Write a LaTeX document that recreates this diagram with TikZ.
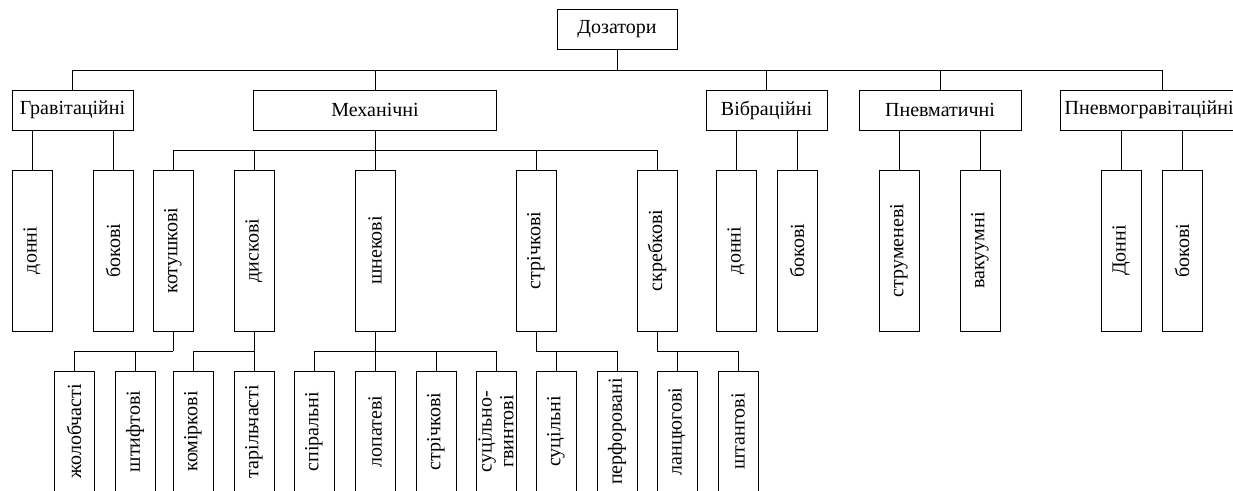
\documentclass[tikz,border=0pt]{standalone}
\usepackage{fontspec}
\setmainfont{Liberation Serif}
\usetikzlibrary{positioning}

\tikzset{
  hbox/.style={draw, rectangle, minimum height=30pt, inner sep=2pt},
  vbox/.style={draw, rectangle, minimum width=30pt, minimum height=120.75pt, inner sep=0pt},
  lbox/.style={vbox, minimum height=90.75pt},
}

\begin{document}
\begin{tikzpicture}[x=0.75pt, y=-0.75pt, font=\fontsize{15}{18}\selectfont, line width=0.7pt]
\useasboundingbox (0,0) rectangle (1233,490);
\clip (0,0) rectangle (1233,490);

% Root
\node[hbox, minimum width=90pt] (doz) at (617,29) {Дозатори};

% Main groups
\foreach \x/\w/\n/\t in {72.5/90.75/grav/Гравітаційні, 375/182.25/mech/Механічні,
    766.5/90.75/vib/Вібраційні, 940/121.5/pnev/Пневматичні} {
   \node[hbox, minimum width=\w pt] (\n) at (\x,110) {\t};
}
\node[hbox, text width=146pt, inner xsep=3pt, align=left] (pgrav) at (1162,110) {Пневмогравітаційні};

% Second level
\foreach \x/\n/\t in {32/don1/донні, 113/bok1/бокові, 173/kot/котушкові, 254/dysk/дискові,
    375/shnek/шнекові, 536/strich/стрічкові, 657/skreb/скребкові, 736/don2/донні,
    797/bok2/бокові, 899/strum/струменеві, 980/vak/вакуумні, 1121/don3/Донні, 1182/bok3/бокові} {
   \node[vbox] (\n) at (\x,250.5) {\rotatebox{90}{\t}};
}

% Third level
\foreach \x/\n/\t in {74/zhol/жолобчасті, 135/shtyf/штифтові, 193/komir/коміркові,
    254/taril/тарільчасті, 314/spir/спіральні, 375/lopat/лопатеві, 436/strich2/стрічкові,
    496/sgv/{\shortstack{суцільно-\\гвинтові}}, 556/sucil/суцільні, 617/perf/перфоровані,
    677/lanc/ланцюгові, 738/shtang/штангові} {
   \node[lbox] (\n) at (\x,431.5) {\rotatebox{90}{\t}};
}

% Root connectors
\coordinate (b0) at (617,70);
\draw (doz) -- (b0);
\foreach \n in {grav,mech,vib,pnev,pgrav} {
   \draw (b0) -| (\n.north);
}

% Mechanical connectors
\coordinate (b1) at (375,150);
\draw (mech) -- (b1);
\foreach \n in {kot,dysk,shnek,strich,skreb} {
   \draw (b1) -| (\n.north);
}

% Simple pairs
\foreach \p/\a/\b in {grav/don1/bok1, vib/don2/bok2, pnev/strum/vak, pgrav/don3/bok3} {
   \draw (\p.south -| \a.north) -- (\a.north);
   \draw (\p.south -| \b.north) -- (\b.north);
}

% Third level connectors
\foreach \p/\a/\b in {kot/zhol/shtyf, dysk/komir/taril, shnek/spir/sgv, strich/sucil/perf, skreb/lanc/shtang} {
   \coordinate (c\p) at (\p.south |- 0,351);
   \draw (\p.south) -- (c\p);
   \draw (c\p) -| (\a.north);
   \draw (c\p) -| (\b.north);
}
\foreach \n in {lopat,strich2} {
   \draw (cshnek -| \n.north) -- (\n.north);
}
\end{tikzpicture}
\end{document}
